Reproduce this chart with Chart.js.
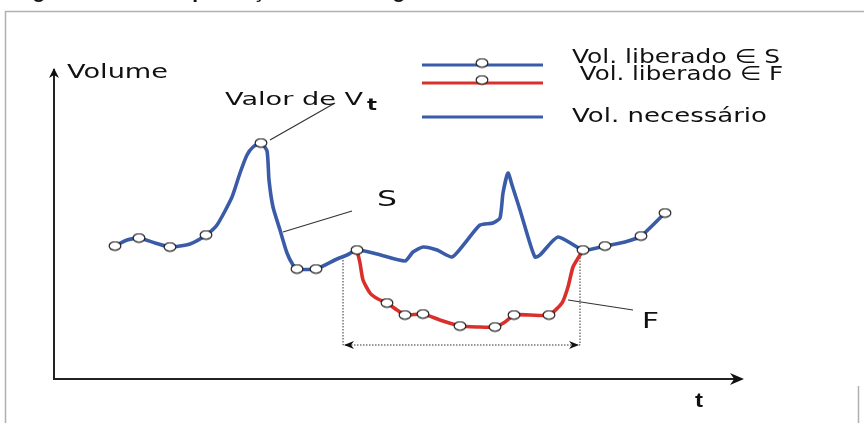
<!DOCTYPE html>
<html>
<head>
<meta charset="utf-8">
<script src="https://cdn.jsdelivr.net/npm/chart.js@4"></script>
<style>
  body { margin: 0; background: #fff; }
  #wrap { position: relative; width: 864px; height: 423px; }
</style>
</head>
<body>
<div id="wrap"><canvas id="descargaChart" width="864" height="423"></canvas></div>
<script>
// Vol. necessário (blue curve S): time t and volume v
const tNecessario = [5.6, 6.1, 7.3, 8.5, 10.1, 11.6, 13.6, 15.2, 16.3, 17.8, 18.6, 19.3, 19.9, 20.7, 21.3, 21.5, 21.9, 22.6, 23.3, 23.9, 24.3, 26.2, 28.3, 29.3, 30.3, 32.3, 35.1, 35.9, 36.9, 38.3, 39.8, 41.1, 42.6, 43.9, 44.6, 44.9, 45.4, 45.8, 46.6, 47.4, 48.1, 48.6, 50.4, 52.9, 55.1, 57.1, 58.7, 61.1];
const vNecessario = [13.1, 13.3, 13.9, 14.1, 13.6, 13.2, 13.5, 14.4, 15.4, 18.2, 20.6, 22.4, 23.2, 23.6, 22.8, 19.9, 17.2, 14.9, 12.6, 11.4, 11.0, 11.0, 12.0, 12.4, 12.9, 12.5, 11.8, 12.7, 13.2, 12.9, 12.2, 13.6, 15.4, 15.6, 16.1, 18.6, 20.6, 19.4, 16.9, 14.2, 12.2, 12.4, 14.2, 12.9, 13.3, 13.7, 14.3, 16.6];

// Vol. liberado ∈ S (markers on S)
const tLiberadoS = [6.1, 8.5, 11.6, 15.2, 20.7, 24.3, 26.2, 30.3, 52.9, 55.1, 58.7, 61.1];
const vLiberadoS = [13.3, 14.1, 13.2, 14.4, 23.6, 11.0, 11.0, 12.9, 12.9, 13.3, 14.3, 16.6];

// Vol. liberado ∈ F (red curve F)
const tCurvaF = [30.3, 30.6, 30.9, 31.6, 32.4, 33.3, 34.3, 35.1, 36.9, 38.6, 40.6, 42.4, 44.1, 45.1, 46.0, 47.6, 49.5, 50.8, 51.4, 51.9, 52.6, 52.9];
const vCurvaF = [12.9, 11.6, 9.9, 8.6, 8.0, 7.6, 6.9, 6.4, 6.5, 5.9, 5.3, 5.2, 5.2, 5.7, 6.4, 6.4, 6.4, 7.6, 9.2, 11.2, 12.4, 12.9];
const tLiberadoF = [33.3, 35.1, 36.9, 40.6, 44.1, 46.0, 49.5];
const vLiberadoF = [7.6, 6.4, 6.5, 5.3, 5.2, 6.4, 6.4];

// interval where F is used (dotted double arrow)
const intervalo = { inicio: 28.9, fim: 52.6, nivel: 3.4, topoInicio: 12.2, topoFim: 12.9 };

const legendLabels = ['Vol. liberado \u2208 S', ' Vol. liberado \u2208 F', 'Vol. necess\u00e1rio'];

const BLUE = '#3a5ca8';
const RED = '#d9302c';

function toPoints(ts, vs) {
  return ts.map((t, i) => ({ x: t, y: vs[i] }));
}

// small white ellipse with black outline, like the reference markers
const marker = document.createElement('canvas');
marker.width = 14; marker.height = 11;
(function() {
  const c = marker.getContext('2d');
  c.beginPath();
  c.ellipse(7, 5.5, 5.9, 4.2, 0, 0, Math.PI * 2);
  c.fillStyle = '#fff';
  c.fill();
  c.lineWidth = 1.1;
  c.strokeStyle = '#111';
  c.stroke();
})();

function fitText(ctx, text, x, y, width, font) {
  ctx.save();
  ctx.font = font;
  ctx.textBaseline = 'alphabetic';
  ctx.textAlign = 'left';
  const w = ctx.measureText(text).width;
  ctx.translate(x, y);
  ctx.scale(width / w, 1);
  ctx.fillText(text, 0, 0);
  ctx.restore();
}

function arrowHead(ctx, x, y, dir, len, half) {
  ctx.save();
  ctx.translate(x, y);
  ctx.rotate(dir);
  ctx.beginPath();
  ctx.moveTo(0, 0);
  ctx.lineTo(-len, -half);
  ctx.lineTo(-len * 0.7, 0);
  ctx.lineTo(-len, half);
  ctx.closePath();
  ctx.fill();
  ctx.restore();
}

const decorations = {
  id: 'decorations',
  beforeDatasetsDraw(chart) {
    const ctx = chart.ctx;
    const xs = chart.scales.x, ys = chart.scales.y;
    const px = v => xs.getPixelForValue(v);
    const py = v => ys.getPixelForValue(v);

    ctx.save();
    // page frame
    ctx.strokeStyle = '#b0b0b0';
    ctx.lineWidth = 1.5;
    ctx.beginPath();
    ctx.moveTo(5.5, 423); ctx.lineTo(5.5, 11.5); ctx.lineTo(864, 11.5);
    ctx.moveTo(858.5, 386); ctx.lineTo(858.5, 423);
    ctx.stroke();

    // cut-off figure caption (only descenders visible)
    ctx.fillStyle = '#111';
    fitText(ctx, 'Figura 3.1 \u2013 Exemplifica\u00e7\u00e3o de descarga em um sistema', 14, -2, 560, 'bold 21px "Liberation Sans", Arial, sans-serif');

    // axes
    ctx.strokeStyle = '#222';
    ctx.fillStyle = '#111';
    ctx.lineWidth = 2;
    ctx.beginPath();
    ctx.moveTo(px(0), py(31.0));
    ctx.lineTo(px(0), py(0));
    ctx.lineTo(px(68.2), py(0));
    ctx.stroke();
    arrowHead(ctx, px(0), py(31.1), -Math.PI / 2, 10, 5);
    arrowHead(ctx, px(69), py(0), 0, 14, 6);

    // dotted interval
    ctx.strokeStyle = '#333';
    ctx.lineWidth = 1;
    ctx.setLineDash([1.5, 1.5]);
    ctx.beginPath();
    ctx.moveTo(px(intervalo.inicio), py(intervalo.topoInicio));
    ctx.lineTo(px(intervalo.inicio), py(intervalo.nivel));
    ctx.lineTo(px(intervalo.fim), py(intervalo.nivel));
    ctx.lineTo(px(intervalo.fim), py(intervalo.topoFim));
    ctx.stroke();
    ctx.setLineDash([]);
    arrowHead(ctx, px(intervalo.inicio) + 1, py(intervalo.nivel), Math.PI, 10, 4);
    arrowHead(ctx, px(intervalo.fim) - 1, py(intervalo.nivel), 0, 10, 4);

    // leader lines
    ctx.strokeStyle = '#333';
    ctx.lineWidth = 1.2;
    ctx.beginPath();
    ctx.moveTo(px(21.6), py(23.9)); ctx.lineTo(px(28.1), py(27.6));
    ctx.moveTo(px(22.9), py(14.7)); ctx.lineTo(px(29.8), py(16.8));
    ctx.moveTo(px(51.4), py(7.9)); ctx.lineTo(px(57.9), py(6.9));
    ctx.stroke();

    // labels
    const f = '"DejaVu Sans", Verdana, sans-serif';
    ctx.fillStyle = '#111';
    fitText(ctx, 'Volume', 67, 78, 101, '19px ' + f);
    fitText(ctx, 'Valor de V', 225, 105, 138, '18px ' + f);
    fitText(ctx, 't', 367, 110, 10, 'bold 15px ' + f);
    fitText(ctx, 'S', 377, 206, 20, '22px ' + f);
    fitText(ctx, 'F', 642, 328, 17, '22px ' + f);
    fitText(ctx, 't', 695, 407, 8, 'bold 20px "Liberation Sans", Arial, sans-serif');

    // legend
    const rows = [
      { y: 65, color: BLUE, mark: 63, tx: 572, tw: 208, ty: 63 },
      { y: 83, color: RED, mark: 80, tx: 572, tw: 211, ty: 80 },
      { y: 117, color: BLUE, mark: null, tx: 572, tw: 195, ty: 122 }
    ];
    rows.forEach((r, i) => {
      ctx.strokeStyle = r.color;
      ctx.lineWidth = 3;
      ctx.beginPath();
      ctx.moveTo(422, r.y); ctx.lineTo(543, r.y);
      ctx.stroke();
      if (r.mark !== null) ctx.drawImage(marker, 475, r.mark - 5.5);
      ctx.fillStyle = '#111';
      fitText(ctx, legendLabels[i], r.tx, r.ty, r.tw, '20px ' + f);
    });
    ctx.restore();
  }
};

new Chart(document.getElementById('descargaChart'), {
  type: 'line',
  data: {
    datasets: [
      {
        label: legendLabels[2],
        data: toPoints(tNecessario, vNecessario),
        borderColor: BLUE,
        borderWidth: 3.6,
        pointRadius: 0,
        tension: 0.2,
        order: 3
      },
      {
        label: legendLabels[1],
        data: toPoints(tCurvaF, vCurvaF),
        borderColor: RED,
        borderWidth: 3.6,
        pointRadius: 0,
        tension: 0.2,
        order: 2
      },
      {
        label: legendLabels[0],
        data: toPoints(tLiberadoS, vLiberadoS),
        showLine: false,
        pointStyle: marker,
        order: 1
      },
      {
        label: legendLabels[1].trim(),
        data: toPoints(tLiberadoF, vLiberadoF),
        showLine: false,
        pointStyle: marker,
        order: 0
      }
    ]
  },
  options: {
    responsive: false,
    animation: false,
    layout: { padding: { left: 54, right: 120, top: 89, bottom: 44 } },
    scales: {
      x: { type: 'linear', min: 0, max: 69, display: false },
      y: { type: 'linear', min: 0, max: 29, display: false }
    },
    plugins: {
      legend: { display: false },
      tooltip: { enabled: false }
    }
  },
  plugins: [decorations]
});
</script>
</body>
</html>
